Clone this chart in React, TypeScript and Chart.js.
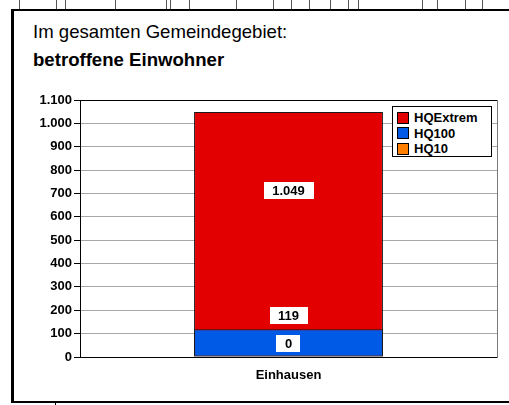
import React, { useEffect, useRef } from "react";
import { Chart, registerables } from "chart.js";

Chart.register(...registerables);

const categories = ["Einhausen"];
const seriesNames = ["HQExtrem", "HQ100", "HQ10"];
const hqExtrem = [1049];
const hq100 = [119];
const hq10 = [0];
const seriesColors = ["#E30000", "#005AE6", "#FF8000"];
const yTicks = [0, 100, 200, 300, 400, 500, 600, 700, 800, 900, 1000, 1100];

const fmt = (v: number) => v.toLocaleString("de-DE");

const FONT = "'Liberation Sans', Arial, sans-serif";

const labelPlugin = {
  id: "boxLabels",
  afterDatasetsDraw(chart: any) {
    const { ctx, chartArea, scales } = chart;
    ctx.save();
    ctx.font = `bold 13px ${FONT}`;
    ctx.textAlign = "center";
    ctx.textBaseline = "middle";
    chart.data.datasets.forEach((ds: any, di: number) => {
      const meta = chart.getDatasetMeta(di);
      meta.data.forEach((bar: any, i: number) => {
        const v = ds.data[i];
        let cy = bar.y - 14;
        if (cy - 9 < chartArea.top + 10) {
          cy = scales.y.getPixelForValue(v * 0.68);
        }
        const text = fmt(v);
        const w = ctx.measureText(text).width + 17;
        const h = 17;
        ctx.fillStyle = "#ffffff";
        ctx.fillRect(Math.round(bar.x - w / 2), Math.round(cy - h / 2), Math.round(w), h);
        ctx.fillStyle = "#000000";
        ctx.fillText(text, bar.x, cy + 1);
      });
    });
    ctx.restore();
  },
};

const framePlugin = {
  id: "frame",
  afterDraw(chart: any) {
    const { ctx, chartArea } = chart;
    ctx.save();
    ctx.strokeStyle = "#7a7a7a";
    ctx.lineWidth = 1;
    ctx.beginPath();
    ctx.moveTo(Math.round(chartArea.right) + 0.5, chartArea.top);
    ctx.lineTo(Math.round(chartArea.right) + 0.5, chartArea.bottom + 1);
    ctx.stroke();
    ctx.restore();
  },
};

const tableLines = [19, 56, 65, 115, 166, 170, 189, 236, 273, 291, 309, 330, 348, 358, 422, 437, 465, 482];

export default function App() {
  const ref = useRef<HTMLCanvasElement | null>(null);

  useEffect(() => {
    if (!ref.current) return;
    const mk = (label: string, data: number[], color: string, order: number) => ({
      label,
      data,
      backgroundColor: color,
      borderColor: label === "HQ10" ? color : "#1a1a1a",
      borderWidth: 1,
      borderSkipped: false,
      grouped: false,
      order,
      barPercentage: 0.453,
      categoryPercentage: 1,
    });
    const chart = new Chart(ref.current, {
      type: "bar",
      data: {
        labels: categories,
        datasets: [
          mk(seriesNames[0], hqExtrem, seriesColors[0], 3),
          mk(seriesNames[1], hq100, seriesColors[1], 2),
          mk(seriesNames[2], hq10, seriesColors[2], 1),
        ],
      },
      options: {
        animation: false,
        responsive: false,
        devicePixelRatio: 1,
        layout: { padding: { top: 15, right: 12, bottom: 0, left: 0 } },
        plugins: {
          legend: { display: false },
          tooltip: { enabled: false },
        },
        scales: {
          x: {
            stacked: false,
            grid: { display: false },
            border: { display: true, color: "#000000", width: 1 },
            ticks: {
              color: "#000000",
              font: { family: FONT, size: 13, weight: "bold" },
              padding: 3,
            },
            afterFit: (s: any) => {
              s.height = 28;
            },
          },
          y: {
            min: 0,
            max: 1100,
            afterBuildTicks: (s: any) => {
              s.ticks = yTicks.map((v) => ({ value: v }));
            },
            grid: {
              color: (c: any) => (c.tick && c.tick.value === 1100 ? "#000000" : "#a8a8a8"),
              tickColor: "#000000",
              tickLength: 6,
              lineWidth: 1,
            },
            border: { display: true, color: "#000000", width: 1 },
            ticks: {
              color: "#000000",
              padding: 2,
              font: { family: FONT, size: 13, weight: "bold" },
              callback: (v: any) => fmt(Number(v)),
            },
            afterFit: (s: any) => {
              s.width = 80;
            },
          },
        },
      },
      plugins: [labelPlugin, framePlugin],
    });
    return () => chart.destroy();
  }, []);

  return (
    <div
      style={{
        position: "absolute",
        left: 0,
        top: 0,
        width: 509,
        height: 405,
        background: "#ffffff",
        overflow: "hidden",
        fontFamily: FONT,
      }}
    >
      {tableLines.map((x) => (
        <div key={x} style={{ position: "absolute", left: x, top: 0, width: 1, height: 9, background: "#555" }} />
      ))}
      <div style={{ position: "absolute", left: 11, top: 9, width: 498, height: 2, background: "#000" }} />
      <div style={{ position: "absolute", left: 11, top: 9, width: 3, height: 394, background: "#000" }} />
      <div style={{ position: "absolute", left: 11, top: 401, width: 498, height: 2, background: "#000" }} />
      <div style={{ position: "absolute", left: 55, top: 403, width: 1, height: 2, background: "#000" }} />
      <div
        style={{
          position: "absolute",
          left: 33,
          top: 21,
          fontSize: 18.6,
          lineHeight: "22px",
          whiteSpace: "nowrap",
          color: "#000",
        }}
      >
        Im gesamten Gemeindegebiet:
      </div>
      <div
        style={{
          position: "absolute",
          left: 33,
          top: 49,
          fontSize: 18.6,
          fontWeight: "bold",
          lineHeight: "22px",
          whiteSpace: "nowrap",
          color: "#000",
        }}
      >
        betroffene Einwohner
      </div>
      <canvas
        ref={ref}
        width={509}
        height={300}
        style={{ position: "absolute", left: 0, top: 85, width: 509, height: 300 }}
      />
      <div
        style={{
          position: "absolute",
          left: 392,
          top: 106,
          width: 100,
          height: 51,
          border: "1px solid #000",
          background: "#fff",
          boxSizing: "border-box",
        }}
      >
        {seriesNames.map((n, i) => (
          <div key={n} style={{ position: "absolute", left: 4, top: 3 + i * 15.5, height: 15, display: "flex", alignItems: "center" }}>
            <div
              style={{
                width: 12,
                height: 12,
                boxSizing: "border-box",
                border: "1px solid #000",
                background: seriesColors[i],
                marginRight: 5,
              }}
            />
            <span style={{ fontSize: 13, fontWeight: "bold", color: "#000", lineHeight: "15px" }}>{n}</span>
          </div>
        ))}
      </div>
    </div>
  );
}
